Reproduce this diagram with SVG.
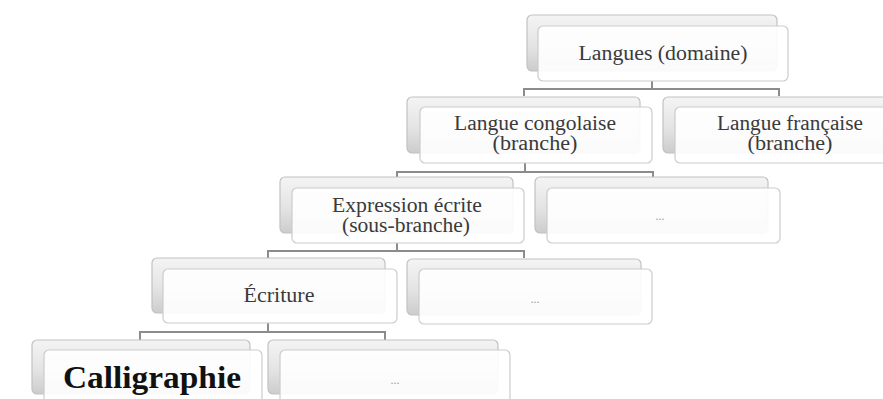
<svg xmlns="http://www.w3.org/2000/svg" width="883" height="399" viewBox="0 0 883 399">
<defs>
<linearGradient id="bg" x1="0" y1="0" x2="0" y2="1">
<stop offset="0" stop-color="#f4f4f4"/>
<stop offset="0.55" stop-color="#e4e4e4"/>
<stop offset="1" stop-color="#cccccc"/>
</linearGradient>
<style>
.back{fill:url(#bg);stroke:#c2c2c2;stroke-width:1.2}
.front{fill:#ffffff;fill-opacity:0.9;stroke:#cccccc;stroke-width:1.2}
.lbl{font-size:20px;fill:#3a3a3a;text-anchor:middle}
.dots{font-size:12px;fill:#9a9a9a;text-anchor:middle}
.big{font-size:32px;font-weight:bold;fill:#111;text-anchor:middle}
.conn{fill:none;stroke:#8c8c8c;stroke-width:2}
</style>
</defs>
<rect width="883" height="399" fill="#ffffff"/>
<g id="connectors">
<path class="conn" d="M652 81 V89 M524 96 V89 H779 V96"/>
<path class="conn" d="M525 162 V172 M397 178 V172 H653 V178"/>
<path class="conn" d="M397 243 V251 M268 258 V251 H524 V258"/>
<path class="conn" d="M268 323 V332 M140 340 V332 H385 V340"/>
</g>
<g font-family="Liberation Serif, DejaVu Serif, serif">
<g id="n-root">
<rect class="back" x="527" y="15" width="250" height="56" rx="5"/>
<rect class="front" x="538" y="26" width="250" height="55" rx="5"/>
<text class="lbl" x="663" y="60" textLength="169" lengthAdjust="spacingAndGlyphs">Langues (domaine)</text>
</g>
<g id="n-congolaise">
<rect class="back" x="407" y="97" width="233" height="56" rx="5"/>
<rect class="front" x="420" y="107" width="232" height="56" rx="5"/>
<text class="lbl" x="535" y="130" textLength="162" lengthAdjust="spacingAndGlyphs">Langue congolaise</text>
<text class="lbl" x="535" y="150" textLength="85" lengthAdjust="spacingAndGlyphs">(branche)</text>
</g>
<g id="n-francaise">
<rect class="back" x="663" y="97" width="233" height="56" rx="5"/>
<rect class="front" x="675" y="107" width="233" height="56" rx="5"/>
<text class="lbl" x="790" y="130" textLength="146" lengthAdjust="spacingAndGlyphs">Langue française</text>
<text class="lbl" x="790" y="150" textLength="85" lengthAdjust="spacingAndGlyphs">(branche)</text>
</g>
<g id="n-expression">
<rect class="back" x="280" y="177" width="233" height="56" rx="5"/>
<rect class="front" x="292" y="188" width="232" height="55" rx="5"/>
<text class="lbl" x="407" y="212" textLength="150" lengthAdjust="spacingAndGlyphs">Expression écrite</text>
<text class="lbl" x="406" y="232" textLength="128" lengthAdjust="spacingAndGlyphs">(sous-branche)</text>
</g>
<g id="n-dots1">
<rect class="back" x="535" y="177" width="233" height="56" rx="5"/>
<rect class="front" x="547" y="188" width="233" height="55" rx="5"/>
<text class="dots" x="660" y="220">...</text>
</g>
<g id="n-ecriture">
<rect class="back" x="152" y="258" width="233" height="55" rx="5"/>
<rect class="front" x="163" y="269" width="234" height="54" rx="5"/>
<text class="lbl" x="279" y="302" textLength="71" lengthAdjust="spacingAndGlyphs">Écriture</text>
</g>
<g id="n-dots2">
<rect class="back" x="407" y="259" width="234" height="56" rx="5"/>
<rect class="front" x="419" y="269" width="233" height="55" rx="5"/>
<text class="dots" x="535" y="303">...</text>
</g>
<g id="n-calligraphie">
<rect class="back" x="32" y="340" width="218" height="54" rx="5"/>
<rect class="front" x="44" y="350" width="218" height="56" rx="5"/>
<text class="big" x="152" y="388" textLength="178" lengthAdjust="spacingAndGlyphs">Calligraphie</text>
</g>
<g id="n-dots3">
<rect class="back" x="268" y="340" width="230" height="54" rx="5"/>
<rect class="front" x="280" y="350" width="230" height="56" rx="5"/>
<text class="dots" x="395" y="384">...</text>
</g>
</g>
</svg>
